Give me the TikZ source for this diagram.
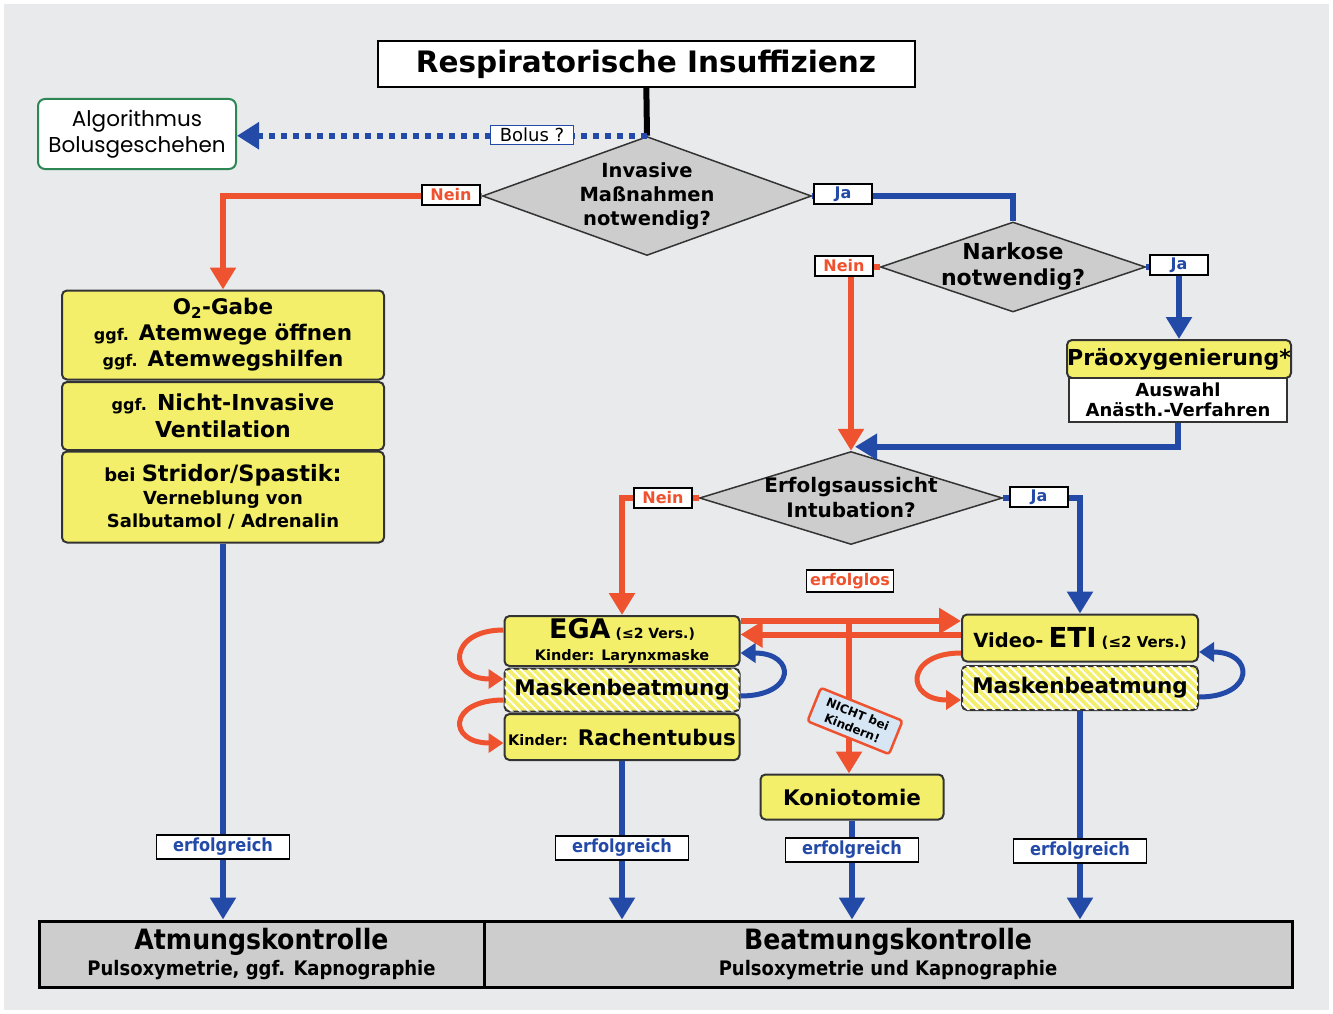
\documentclass[tikz,border=0pt]{standalone}
\usepackage{fontspec}
\setmainfont{DejaVu Sans}
\newfontfamily\algfont{Poppins}
\newfontfamily\condfont{DejaVu Sans Condensed}[BoldFont={DejaVu Sans Condensed Bold}]
\usepackage{tikz}
\usetikzlibrary{arrows.meta,shapes.geometric,patterns.meta,calc}
\definecolor{bg}{RGB}{233,234,236}
\definecolor{rot}{RGB}{238,82,46}
\definecolor{blau}{RGB}{36,74,168}
\definecolor{gelb}{RGB}{243,239,106}
\definecolor{grau}{RGB}{205,205,205}
\definecolor{gruen}{RGB}{45,135,85}
\definecolor{hellblau}{RGB}{214,230,245}
\newcommand\fsz[2]{\fontsize{#1pt}{#2pt}\selectfont}
\tikzset{
  gbox/.style={draw=black!80,line width=2pt,rounded corners=5pt,fill=gelb,align=center,font=\bfseries,inner sep=0pt},
  hbox/.style={gbox,postaction={pattern={Lines[angle=-45,distance=6pt,line width=2pt]},pattern color=white}},
  dec/.style={diamond,draw=black!80,line width=1.5pt,fill=grau,inner sep=0pt},
  dectxt/.style={align=center,font=\bfseries\fsz{19.5}{24},inner sep=0pt},
  lbl/.style={draw=black,line width=1.5pt,fill=white,font=\bfseries\fsz{16}{18},inner sep=0pt,minimum width=58pt,minimum height=20pt},
  erf/.style={lbl,text=blau,font=\condfont\bfseries\fsz{18}{20},minimum width=133pt,minimum height=24pt},
  ctrl/.style={draw=black,line width=3pt,fill=grau,inner sep=0pt,minimum height=66pt,align=center,font=\condfont\bfseries},
  redarr/.style={draw=rot,line width=6pt,-{Triangle[width=25pt,length=22pt]}},
  bluearr/.style={draw=blau,line width=6pt,-{Triangle[width=25pt,length=22pt]}},
  redloop/.style={draw=rot,line width=5pt,-{Triangle[width=19pt,length=15pt]}},
  blueloop/.style={draw=blau,line width=5pt,-{Triangle[width=19pt,length=15pt]}}
}
\begin{document}
\begin{tikzpicture}[x=1pt,y=-1pt]
\useasboundingbox (0,0) rectangle (1333,1014);
\fill[bg] (4,4) rectangle (1329,1010);

\node[draw=black,line width=2pt,fill=white,minimum width=537pt,minimum height=46pt,font=\bfseries\fsz{29.5}{32}] (title) at (646,64) {Respiratorische Insuffizienz};
\node[draw=gruen,line width=2pt,rounded corners=7pt,fill=white,minimum width=198pt,minimum height=70pt,align=center,font=\algfont\fsz{21.5}{26}] (alg) at (137,134) {Algorithmus\\Bolusgeschehen};

\node[dec,minimum width=329pt,minimum height=119pt,label={[dectxt]center:{Invasive\\Maßnahmen\\notwendig?}}] (d1) at (647,196) {};
\node[dec,minimum width=265pt,minimum height=90pt,label={[dectxt,font=\bfseries\fsz{22}{26}]center:{Narkose\\notwendig?}}] (d2) at (1013,267) {};
\node[dec,minimum width=303pt,minimum height=93pt,label={[dectxt,font=\bfseries\fsz{20}{25}]center:{Erfolgsaussicht\\Intubation?}}] (d3) at (851,498) {};

\node[gbox,minimum width=322pt,minimum height=89pt,font=\bfseries\fsz{21.5}{26}] (o2) at (223,335) {O\textsubscript{2}-Gabe\\{\fsz{16}{18}ggf.} Atemwege öffnen\\{\fsz{16}{18}ggf.} Atemwegshilfen};
\node[gbox,minimum width=322pt,minimum height=68pt,font=\bfseries\fsz{22}{27}] (niv) at (223,416) {{\fsz{16}{18}ggf.} Nicht-Invasive\\Ventilation};
\node[gbox,minimum width=322pt,minimum height=91pt,font=\bfseries\fsz{18}{23}] (strid) at (223,497) {{\fsz{18}{22}bei} {\fsz{22.5}{24}Stridor/Spastik:}\\Verneblung von\\Salbutamol / Adrenalin};

\node[gbox,minimum width=224pt,minimum height=38pt,font=\bfseries\fsz{22}{24}] (prae) at (1179,359) {Präoxygenierung*};
\node[draw=black!80,line width=2pt,fill=white,minimum width=218pt,minimum height=44pt,inner sep=0pt,align=center,font=\bfseries\fsz{18}{20}] (ausw) at (1178,400) {Auswahl\\Anästh.-Verfahren};

\node[gbox,minimum width=235pt,minimum height=50pt,font=\bfseries\fsz{14.5}{22}] (ega) at (622,641) {{\fsz{27}{27}EGA} {\fsz{14}{16}(≤2 Vers.)}\\Kinder: Larynxmaske};
\node[hbox,minimum width=235pt,minimum height=43pt,font=\bfseries\fsz{21.5}{24}] (mask1) at (622,690) {Maskenbeatmung};
\node[gbox,minimum width=235pt,minimum height=46pt,font=\bfseries\fsz{21.5}{24}] (rach) at (622,737) {{\fsz{14.5}{16}Kinder:} Rachentubus};
\node[gbox,minimum width=236pt,minimum height=47pt,font=\bfseries\fsz{15}{22}] (eti) at (1080,638) {{\fsz{19.5}{22}Video-} {\fsz{27.5}{28}ETI} (≤2 Vers.)};
\node[hbox,minimum width=236pt,minimum height=44pt,font=\bfseries\fsz{21.5}{24}] (mask2) at (1080,688) {Maskenbeatmung};
\node[gbox,minimum width=183pt,minimum height=45pt,font=\bfseries\fsz{21.5}{24}] (konio) at (852,797) {Koniotomie};

\node[ctrl,minimum width=445pt] (atm) at (261.5,954) {{\fsz{28}{30}Atmungskontrolle}\\[3pt]{\fsz{20}{29}Pulsoxymetrie, ggf. Kapnographie}};
\node[ctrl,minimum width=808pt] (beat) at (888,954) {{\fsz{28}{30}Beatmungskontrolle}\\[3pt]{\fsz{20}{29}Pulsoxymetrie und Kapnographie}};

% Verbindungen
\draw[line width=6pt] (title) -- (d1.north);
\draw[draw=blau,line width=6pt,dash pattern=on 6pt off 6pt,-{Triangle[width=26pt,length=22pt]}] (d1.north) -- (d1.north -| alg.east);
\node[draw=blau,line width=1pt,fill=white,inner sep=0pt,minimum width=83pt,minimum height=19pt,font=\fsz{18}{20}] (bolus) at (532,135) {Bolus ?};

\draw[redarr] (d1.west) -| (o2.north);
\node[lbl,text=rot] (nein1) at (451,195) {Nein};
\draw[bluearr,-] (d1.east) -| (d2.north);
\node[lbl,text=blau] (ja1) at (843,194) {Ja};

\draw[redarr] (d2.west) -| (d3.north);
\node[lbl,text=rot] (nein2) at (844,266) {Nein};
\draw[bluearr] (d2.east) -| (prae.north);
\node[lbl,text=blau] (ja2) at (1179,265) {Ja};
\draw[bluearr] (ausw.south) |- ([xshift=4pt,yshift=4pt]d3.north);

\draw[redarr] (d3.west) -| (ega.north);
\node[lbl,text=rot] (nein3) at (663,498) {Nein};
\draw[bluearr] (d3.east) -| (eti.north);
\node[lbl,text=blau] (ja3) at (1039,497) {Ja};
\node[lbl,text=rot,minimum width=87pt,minimum height=22pt,font=\bfseries\fsz{16}{18}] (erfolglos) at (850,581) {erfolglos};

\draw[redarr] ([yshift=-6pt]ega.north east) -- ([yshift=-6pt]ega.north east -| eti.west);
\draw[redarr] ([yshift=-21pt]eti.north west) -- ([yshift=-21pt]eti.north west -| ega.east);
\coordinate (split) at (849,622);
\draw[redarr] (split) -- (split |- konio.north);
\node[draw=rot,line width=2.5pt,rounded corners=3pt,fill=hellblau,rotate=-22,inner sep=0pt,minimum width=88pt,minimum height=36pt,align=center,font=\bfseries\fsz{12}{15}] (nicht) at (855,721) {NICHT bei\\Kindern!};

\draw[redloop] ([yshift=11pt]ega.west) .. controls +(-56,0) and +(-56,0) .. ([yshift=11pt]mask1.west);
\draw[redloop] ([yshift=-10pt]mask1.west) .. controls +(-56,0) and +(-56,0) .. ([yshift=-6pt]rach.west);
\draw[blueloop] ([yshift=-6pt]mask1.east) .. controls +(56,0) and +(56,0) .. ([yshift=-12pt]ega.east);
\draw[redloop] ([yshift=-15pt]eti.west) .. controls +(-56,0) and +(-56,0) .. ([yshift=-12pt]mask2.west);
\draw[blueloop] ([yshift=-9pt]mask2.east) .. controls +(56,0) and +(56,0) .. ([yshift=-14pt]eti.east);

\draw[bluearr] (strid.south) -- (strid.south |- atm.north);
\draw[bluearr] (rach.south) -- (rach.south |- beat.north);
\draw[bluearr] (konio.south) -- (konio.south |- beat.north);
\draw[bluearr] (mask2.south) -- (mask2.south |- beat.north);
\node[erf] (erf1) at (223,847) {erfolgreich};
\node[erf] (erf2) at (622,848) {erfolgreich};
\node[erf] (erf3) at (852,850) {erfolgreich};
\node[erf] (erf4) at (1080,851) {erfolgreich};
\end{tikzpicture}
\end{document}
